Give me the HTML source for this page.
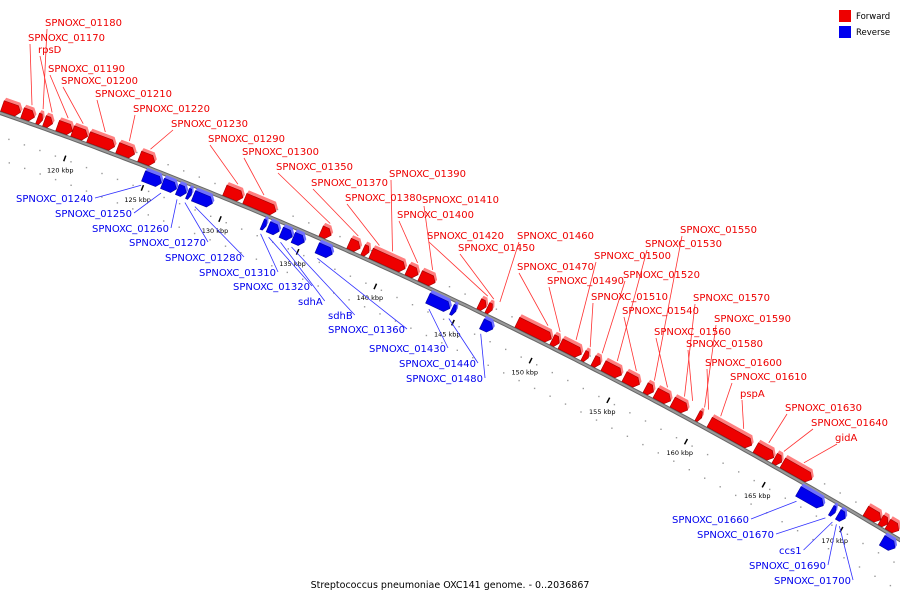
<!DOCTYPE html>
<html><head><meta charset="utf-8"><style>
html,body{margin:0;padding:0;background:#fff}
svg{display:block}
text{font-family:"DejaVu Sans","Liberation Sans",sans-serif}
</style></head><body>
<svg id="c" width="900" height="600" viewBox="0 0 900 600">
<g id="legend">
<rect x="839" y="10" width="12" height="12" fill="#ee0000"/>
<text x="856" y="19" font-size="8.5" fill="#000">Forward</text>
<rect x="839" y="26" width="12" height="12" fill="#0000ee"/>
<text x="856" y="35" font-size="8.5" fill="#000">Reverse</text>
</g>
<text x="450" y="588" font-size="9.5" text-anchor="middle" fill="#000">Streptococcus pneumoniae OXC141 genome. - 0..2036867</text>
</svg>
<script>
// gene data (kbp)
const fwdStart=[115.96,117.24,118.21,118.65,119.49,120.45,121.47,123.33,124.74,130.19,131.47,136.35,138.14,139.04,139.55,141.86,142.69,146.47,146.99,148.91,151.15,151.67,153.14,153.78,154.42,155.77,157.12,157.76,158.85,160.45,161.22,164.17,165.38,165.90,171.22,172.18,172.63];
const fwdEnd=[117.12,118.01,118.53,119.17,120.45,121.41,123.14,124.42,125.71,131.35,133.46,136.99,138.85,139.42,141.73,142.56,143.65,146.92,147.31,151.09,151.60,153.01,153.46,154.23,155.58,156.73,157.63,158.72,159.81,160.71,163.91,165.32,165.83,167.76,172.18,172.63,173.33];
const revStart=[125.38,126.60,127.56,128.21,128.59,133.01,133.40,134.23,135.0,136.54,143.65,145.19,147.12,167.44,169.55,170.0,172.82];
const revEnd=[126.54,127.50,128.14,128.46,129.81,133.27,134.10,134.94,135.71,137.50,145.06,145.45,147.82,169.04,169.81,170.45,173.65];
const tickKbp=[120,125,130,135,140,145,150,155,160,165,170];
const tickLabels=["120 kbp","125 kbp","130 kbp","135 kbp","140 kbp","145 kbp","150 kbp","155 kbp","160 kbp","165 kbp","170 kbp"];
const fwdLabels=[["SPNOXC_01180",45,26,37],["SPNOXC_01170",28,41,26],["rpsD",38,53,46],["SPNOXC_01190",48,72,62],["SPNOXC_01200",61,84,77],["SPNOXC_01210",95,97,99],["SPNOXC_01220",133,112,123],["SPNOXC_01230",171,127,144],["SPNOXC_01290",208,142,231],["SPNOXC_01300",242,155,257],["SPNOXC_01350",276,170,323],["SPNOXC_01370",311,186,351],["SPNOXC_01390",389,177,385],["SPNOXC_01380",345,201,372],["SPNOXC_01410",422,203,425],["SPNOXC_01400",397,218,410],["SPNOXC_01420",427,239,480],["SPNOXC_01460",517,239,492],["SPNOXC_01450",458,251,486],["SPNOXC_01550",680,233,646],["SPNOXC_01530",645,247,609],["SPNOXC_01500",594,259,568],["SPNOXC_01470",517,270,540],["SPNOXC_01520",623,278,594],["SPNOXC_01490",547,284,552],["SPNOXC_01510",591,300,582],["SPNOXC_01570",693,301,676],["SPNOXC_01540",622,314,628],["SPNOXC_01590",714,322,696],["SPNOXC_01560",654,335,659],["SPNOXC_01580",686,347,684],["SPNOXC_01600",705,366,700],["SPNOXC_01610",730,380,712],["pspA",740,397,735],["SPNOXC_01630",785,411,760],["SPNOXC_01640",811,426,775],["gidA",835,441,795]];
const revLabels=[["SPNOXC_01240",16,202,148],["SPNOXC_01250",55,217,168],["SPNOXC_01260",92,232,184],["SPNOXC_01270",129,246,192],["SPNOXC_01280",165,261,202],["SPNOXC_01310",199,276,268],["SPNOXC_01320",233,290,276],["sdhA",298,305,288],["sdhB",328,319,299],["SPNOXC_01360",328,333,325],["SPNOXC_01430",369,352,437],["SPNOXC_01440",399,367,457],["SPNOXC_01480",406,382,489],["SPNOXC_01660",672,523,806],["SPNOXC_01670",697,538,835],["ccs1",779,554,842],["SPNOXC_01690",749,569,846],["SPNOXC_01700",774,584,849]];

const NS='http://www.w3.org/2000/svg';
const svg=document.getElementById('c');
function bx(k){return 63+(k-120)*15.6}
function by(x){return 113+0.3478*x+1.407e-4*x*x}
function sl(x){return 0.3478+2.814e-4*x}
function pt(x,off){const s=sl(x),L=Math.sqrt(1+s*s);return [x-s/L*off, by(x)+off/L]}
function mk(tag,attrs){const e=document.createElementNS(NS,tag);for(const k in attrs)e.setAttribute(k,attrs[k]);return e}
function poly(pts){return pts.map(p=>p[0].toFixed(1)+','+p[1].toFixed(1)).join(' ')}

const gBack=mk('g',{});


svg.insertBefore(gBack,svg.firstChild);
let d='';for(let x=-5;x<=905;x+=5){d+=(x==-5?'M':'L')+x+','+by(x).toFixed(1)}
const bl=mk('path',{d:d,stroke:'#666',"stroke-width":4,fill:'none'});


gBack.appendChild(bl);
const bl2=mk('path',{d:d,stroke:'#9a9a9a',"stroke-width":2,fill:'none'});


gBack.appendChild(bl2);

// minor dots
for(let k=115;k<=175;k++){
  [[22,0],[-10,0.5],[44,0.5]].forEach(([off,sh])=>{
    const x=bx(k+sh); const p=pt(x,off);
    const r=mk('rect',{x:(p[0]-0.7).toFixed(1),y:(p[1]-0.7).toFixed(1),width:1.4,height:1.4,fill:'#999'});
    
    
    gBack.appendChild(r);
  });
}
// major ticks
tickKbp.forEach((k,i)=>{
  const x=bx(k);const a=pt(x+9,18),b=pt(x+9,24);
  const l=mk('line',{x1:a[0],y1:a[1],x2:b[0],y2:b[1],stroke:'#000',"stroke-width":1.5});
  
  
  gBack.appendChild(l);
  const p=pt(x+9,34);
  const t=mk('text',{x:p[0].toFixed(1),y:(p[1]+2).toFixed(1),"font-size":6.5,"text-anchor":"middle",fill:'#000',"font-family":"Liberation Serif, serif"});
  t.textContent=tickLabels[i];
  
  
  gBack.appendChild(t);
});

function gene(s,e,fwd){
  const x1=bx(s),x2=bx(e),len=x2-x1,h=Math.min(4,len*0.45);
  const g=mk('g',{});
  
  
  const o1=fwd?-2:15,o2=fwd?-13:4,dx=2,dy=-3;
  const mid=(o1+o2)/2;
  const main=[pt(x1,o1),pt(x1,o2),pt(x2-h,o2),pt(x2,mid),pt(x2-h,o1)];
  const sh=p=>[p[0]+dx,p[1]+dy];
  const top=[pt(x1,o2),sh(pt(x1,o2)),sh(pt(x2-h,o2)),sh(pt(x2,mid)),pt(x2,mid),pt(x2-h,o2)];
  const pt1=mk('polygon',{points:poly(top),fill:fwd?'#ff8080':'#7070ff'});
  
  
  g.appendChild(pt1);
  const pm=mk('polygon',{points:poly(main),fill:fwd?'#ee0000':'#0000ee',stroke:fwd?'#a00000':'#0000a0',"stroke-width":0.6});
  
  
  g.appendChild(pm);
  svg.appendChild(g);
}
fwdStart.forEach((s,i)=>gene(s,fwdEnd[i],true));
revStart.forEach((s,i)=>gene(s,revEnd[i],false));

function label(L,fwd){
  const [txt,lx,ly,tx]=L;
  const t=mk('text',{x:lx,y:ly,"font-size":10,fill:fwd?'#ee0000':'#0000ee'});
  t.textContent=txt;
  
  
  svg.appendChild(t);
  let a,b;
  if(fwd){a=[lx+2,ly+3];b=pt(tx,-18);}
  else{const w=t.getComputedTextLength();a=[lx+w+2,ly-4];b=pt(tx,19);}
  const l=mk('line',{x1:a[0],y1:a[1],x2:b[0].toFixed(1),y2:b[1].toFixed(1),stroke:fwd?'#ff3030':'#3030ff',"stroke-width":0.8});
  
  
  svg.appendChild(l);
}
fwdLabels.forEach(L=>label(L,true));
revLabels.forEach(L=>label(L,false));
</script>
</body></html>
